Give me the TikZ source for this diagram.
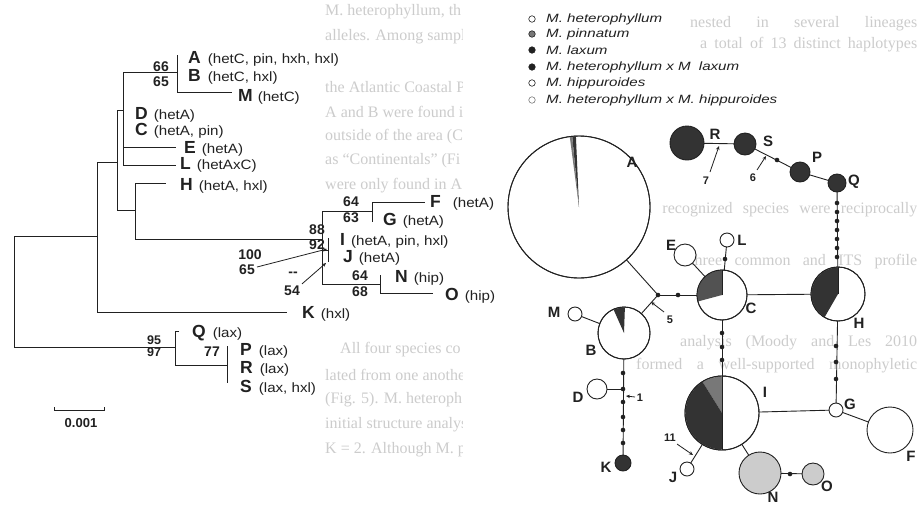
\documentclass[tikz,border=0pt]{standalone}
\usepackage{fontspec}
\setmainfont{Liberation Serif}
\newfontfamily\lab[FakeStretch=1.12]{Liberation Sans}
\newfontfamily\legf[FakeStretch=1.26]{Liberation Sans Italic}
\newfontfamily\bsf{Liberation Sans}
\usetikzlibrary{arrows.meta}
\definecolor{ink}{gray}{0.13}
\definecolor{pinn}{gray}{0.47}
\definecolor{darkc}{gray}{0.2}
\definecolor{hipc}{gray}{0.8}
\definecolor{ghostc}{gray}{0.8}
\newcommand\annf{\lab\mdseries\fontsize{13.5}{14}\selectfont}
\newcommand\pieSect[5]{\fill[#5] (#1) -- ++({-(#3)}:#2) arc[start angle={-(#3)}, end angle={-(#4)}, radius=#2] -- cycle;}
\begin{document}
\begin{tikzpicture}[x=1pt,y=-1pt,
  br/.style={draw=ink, line width=0.9pt},
  tx/.style={font=\bsf\bfseries\fontsize{17.5}{17.5}\selectfont, inner sep=0pt, anchor=base west, text=ink},
  bsv/.style={font=\bsf\bfseries\fontsize{14}{14}\selectfont, inner sep=0pt, text=ink},
  hap/.style={circle, draw=ink, line width=0.9pt, fill=white, inner sep=0pt, outer sep=0pt},
  nl/.style={font=\bsf\bfseries\fontsize{15}{15}\selectfont, inner sep=0pt, text=ink},
  pl/.style={font=\bsf\bfseries\fontsize{11}{11}\selectfont, inner sep=0pt, text=ink},
  edge/.style={draw=ink, line width=0.9pt},
  ptr/.style={draw=ink, line width=0.8pt, -{Stealth[length=4pt,width=3.5pt]}},
  leg/.style={font=\legf\fontsize{12}{12}\selectfont, inner sep=0pt, anchor=west, text=ink},
  lsym/.style={circle, draw=ink, line width=0.6pt, inner sep=0pt, minimum size=6.5pt},
  ghost/.style={font=\fontsize{16}{16}\selectfont, text=ghostc, inner sep=0pt, anchor=west}
]
\useasboundingbox (0,0) rectangle (917,504);
\fill[white] (0,0) rectangle (917,504);

% ---------------- faint page text showing through ----------------
\begin{scope}
\clip (322,0) rectangle (462,504);
\node[ghost] (gl1) at (325,12) {M. heterophyllum, th};
\node[ghost] (gl2) at (325,37) {alleles. Among sampl};
\node[ghost] (gl4) at (325,87) {the Atlantic Coastal P};
\node[ghost] (gl5) at (325,112) {A and B were found i};
\node[ghost] (gl6) at (325,137) {outside of the area (C};
\node[ghost] (gl7) at (325,161) {as ``Continentals'' (Fi};
\node[ghost] (gl8) at (325,186) {were only found in A};
\node[ghost] (gl11) at (340,350) {All four species co};
\node[ghost] (gl12) at (325,375) {lated from one anothe};
\node[ghost] (gl13) at (325,400) {(Fig. 5). M. heteroph};
\node[ghost] (gl14) at (325,425) {initial structure analys};
\node[ghost] (gl15) at (325,450) {K = 2. Although M. p};
\end{scope}
\begin{scope}
\clip (628,0) rectangle (917,504);
\node[ghost] (gr1) at (690,24) {\makebox[227pt][s]{nested in several lineages}};
\node[ghost] (gr2) at (700,45) {\makebox[217pt][s]{a total of 13 distinct haplotypes}};
\node[ghost] (gr3) at (636,210) {\makebox[281pt][s]{all recognized species were reciprocally}};
\node[ghost] (gr5) at (690,262) {\makebox[227pt][s]{three common and ITS profile}};
\node[ghost] (gr7) at (680,343) {\makebox[237pt][s]{analysis (Moody and Les 2010}};
\node[ghost] (gr8) at (636,366) {\makebox[281pt][s]{formed a well-supported monophyletic}};
\end{scope}

% ---------------- tree ----------------
\draw[br] (14,236) -- (14,347);
\draw[br] (14,236) -- (97,236);
\draw[br] (14,347) -- (175,347);
\draw[br] (97,162) -- (97,312);
\draw[br] (97,312) -- (287,312);
\draw[br] (97,162) -- (117,162);
\draw[br] (117,110) -- (117,210);
\draw[br] (117,110) -- (123,110);
\draw[br] (123,72) -- (123,165);
\draw[br] (123,72) -- (177,72);
\draw[br] (177,55) -- (177,92) -- (232,92);
\draw[br] (123,147) -- (176,147);
\draw[br] (123,165) -- (176,165);
\draw[br] (117,210) -- (135,210);
\draw[br] (135,183) -- (135,239);
\draw[br] (135,183) -- (166,183);
\draw[br] (135,239) -- (322,239);
\draw[br] (322,211) -- (322,284);
\draw[br] (322,211) -- (372,211);
\draw[br] (372,202) -- (372,222);
\draw[br] (372,202) -- (425,202);
\draw[br] (322,250) -- (328,250);
\draw[br] (328,238) -- (328,262);
\draw[br] (322,284) -- (380,284);
\draw[br] (380,275) -- (380,293) -- (433,293);
\draw[br] (179,331) -- (175,331) -- (175,365) -- (227,365);
\draw[br] (227,346) -- (227,383);
% scale bar
\draw[br] (54,407) -- (54,411) (54,410) -- (104,410) (104,407) -- (104,411);
\node[bsv, font=\bsf\bfseries\fontsize{13}{13}\selectfont] (scale) at (81,423) {0.001};

% taxa
\node[tx] (tA) at (188,63.5) {A\hspace{7pt}\annf (hetC, pin, hxh, hxl)};
\node[tx] (tB) at (188,81.5) {B\hspace{7pt}\annf (hetC, hxl)};
\node[tx] (tM) at (238,101.5) {M\hspace{5pt}\annf (hetC)};
\node[tx] (tD) at (135,119) {D\hspace{6pt}\annf (hetA)};
\node[tx] (tC) at (135,135) {C\hspace{6pt}\annf (hetA, pin)};
\node[tx] (tE) at (184,153) {E\hspace{6pt}\annf (hetA)};
\node[tx] (tL) at (180,169.5) {L\hspace{6pt}\annf (hetAxC)};
\node[tx] (tH) at (180,190) {H\hspace{6pt}\annf (hetA, hxl)};
\node[tx] (tF) at (430,207) {F\hspace{12pt}\annf (hetA)};
\node[tx] (tG) at (383,225) {G\hspace{6pt}\annf (hetA)};
\node[tx] (tI) at (340,245) {I\hspace{6pt}\annf (hetA, pin, hxl)};
\node[tx] (tJ) at (343,262) {J\hspace{6pt}\annf (hetA)};
\node[tx] (tN) at (395,282) {N\hspace{6pt}\annf (hip)};
\node[tx] (tO) at (445,300) {O\hspace{6pt}\annf (hip)};
\node[tx] (tK) at (302,318) {K\hspace{6pt}\annf (hxl)};
\node[tx] (tQ) at (192,337) {Q\hspace{7pt}\annf (lax)};
\node[tx] (tP) at (240,355) {P\hspace{7pt}\annf (lax)};
\node[tx] (tR) at (240,373) {R\hspace{7pt}\annf (lax)};
\node[tx] (tS) at (240,392) {S\hspace{7pt}\annf (lax, hxl)};

% support values
\node[bsv] (b1) at (161,66.5) {66};
\node[bsv] (b2) at (161,82) {65};
\node[bsv] (b3) at (317,229.5) {88};
\node[bsv] (b4) at (317,245) {92};
\node[bsv] (b5) at (250,255) {100};
\node[bsv] (b6) at (247,270) {65};
\node[bsv] (b7) at (293,274) {--};
\node[bsv] (b8) at (292,291) {54};
\node[bsv] (b9) at (351,202) {64};
\node[bsv] (b10) at (351,218) {63};
\node[bsv] (b11) at (360,276) {64};
\node[bsv] (b12) at (360,292) {68};
\node[bsv, font=\bsf\bfseries\fontsize{12.5}{12.5}\selectfont] (b13) at (154,340.5) {95};
\node[bsv, font=\bsf\bfseries\fontsize{12.5}{12.5}\selectfont] (b14) at (154,352.5) {97};
\node[bsv] (b15) at (212,352) {77};
\coordinate (p1) at (327,249);
\coordinate (p2) at (326,263);
\draw[ptr] (b6.east) ++(2,-3) -- (p1);
\draw[ptr] (b8.north east) ++(2,-2) -- (p2);

% ---------------- legend ----------------
\node[lsym, fill=white] (l1) at (532,19) {};
\node[lsym, fill=pinn] (l2) at (532,34) {};
\node[lsym, fill=ink] (l3) at (532,50) {};
\node[lsym, fill=ink] (l4) at (532,67) {};
\node[lsym, fill=white] (l5) at (532,83) {};
\node[lsym, fill=white, draw=ink!60] (l6) at (532,100) {};
\node[leg] (lt1) at (546,19) {M. heterophyllum};
\node[leg] (lt2) at (546,34) {M. pinnatum};
\node[leg] (lt3) at (546,50) {M. laxum};
\node[leg] (lt4) at (546,67) {M. heterophyllum x M\,\, laxum};
\node[leg] (lt5) at (546,83) {M. hippuroides};
\node[leg] (lt6) at (546,100) {M. heterophyllum x M. hippuroides};

% ---------------- network ----------------
\node[hap, minimum size=142pt] (nA) at (579,207) {};
\node[hap, minimum size=34pt, fill=darkc] (nR) at (687,143) {};
\node[hap, minimum size=22pt, fill=darkc] (nS) at (745,144) {};
\node[hap, minimum size=20pt, fill=darkc] (nP) at (800,172) {};
\node[hap, minimum size=18pt, fill=darkc] (nQ) at (837,183) {};
\node[hap, minimum size=54pt] (nH) at (838,294) {};
\node[hap, minimum size=50pt] (nC) at (722,295) {};
\node[hap, minimum size=22pt] (nE) at (685,255) {};
\node[hap, minimum size=14pt] (nL) at (727,240) {};
\node[hap, minimum size=52pt] (nB) at (624,333) {};
\node[hap, minimum size=14pt] (nM) at (575,314) {};
\node[hap, minimum size=20pt] (nD) at (597,389) {};
\node[hap, minimum size=16pt, fill=darkc] (nK) at (623,463) {};
\node[hap, minimum size=74pt] (nI) at (722,413) {};
\node[hap, minimum size=14pt] (nG) at (836,410) {};
\node[hap, minimum size=46pt] (nF) at (890,430) {};
\node[hap, minimum size=14pt] (nJ) at (687,469) {};
\node[hap, minimum size=42pt, fill=hipc] (nN) at (760,473) {};
\node[hap, minimum size=22pt, fill=hipc] (nO) at (813,474) {};
\coordinate (jn) at (658,295);
\coordinate (jD) at (623,389);

% edges
\draw[edge] (nR) -- (nS);
\draw[edge] (nS) -- (nP);
\draw[edge] (nP) -- (nQ);
\draw[edge] (nQ) -- (nH);
\draw[edge] (nC) -- (nH);
\draw[edge] (nE) -- (nC);
\draw[edge] (nL) -- (nC);
\draw[edge] (nA) -- (jn);
\draw[edge] (jn) -- (nC);
\draw[edge] (jn) -- (nB);
\draw[edge] (nM) -- (nB);
\draw[edge] (nB) -- (nK);
\draw[edge] (nD) -- (jD);
\draw[edge] (nC) -- (nI);
\draw[edge] (nI) -- (nG);
\draw[edge] (nH) -- (nG);
\draw[edge] (nG) -- (nF);
\draw[edge] (nI) -- (nJ);
\draw[edge] (nI) -- (nN);
\draw[edge] (nN) -- (nO);

% pies
\pieSect{nA.center}{70.5}{92.5}{95.5}{darkc}
\pieSect{nA.center}{70.5}{95.5}{97.5}{pinn}
\pieSect{nH.center}{26.5}{90}{240}{darkc}
\pieSect{nC.center}{24.5}{90}{195}{darkc!85!white}
\pieSect{nB.center}{25.5}{88}{114}{darkc}
\pieSect{nI.center}{36.5}{90}{122}{pinn}
\pieSect{nI.center}{36.5}{122}{270}{darkc}
\foreach \n/\r in {nA/71,nH/27,nC/25,nB/26,nI/37}{
  \draw[ink, line width=0.9pt] (\n.center) circle[radius=\r];
}
\draw[ink, line width=0.9pt] (nI.center) -- ++(0,-37) (nI.center) -- ++(0,37);
\draw[ink, line width=0.9pt] (nC.center) -- ++(0,-25) (nH.center) -- ++(0,-27);

% mutation dots
\foreach \p in {(777,160),(837,203),(837,212),(837,221),(837,230),(837,239),(837,248),(837,257),
  (725,259),(658,295),(678,295),(623,373),(623,389),(623,402),(623,417),(623,430),(623,443),
  (722,333),(722,347),(722,360),(836,346),(836,362),(836,379),(790,474)}
  \fill[ink] \p circle[radius=2.3];

% labels
\node[nl] (LA) at (632,162) {A};
\node[nl] (LR) at (715,134) {R};
\node[nl] (LS) at (768,141) {S};
\node[nl] (LP) at (817,157) {P};
\node[nl] (LQ) at (854,182) {Q};
\node[nl] (LH) at (859,323) {H};
\node[nl] (LC) at (751,308) {C};
\node[nl] (LE) at (671,245) {E};
\node[nl] (LL) at (742,240) {L};
\node[nl] (LB) at (591,350) {B};
\node[nl] (LM) at (554,312) {M};
\node[nl] (LD) at (578,397) {D};
\node[nl] (LK) at (606,467) {K};
\node[nl] (LI) at (765,392) {I};
\node[nl] (LG) at (850,404) {G};
\node[nl] (LF) at (911,456) {F};
\node[nl] (LJ) at (673,477) {J};
\node[nl] (LN) at (773,497) {N};
\node[nl] (LO) at (827,486) {O};

% pointers
\node[pl] (m7) at (706,181) {7};
\node[pl] (m6) at (753,178) {6};
\node[pl] (m5) at (670,320) {5};
\node[pl] (m1) at (640,398) {1};
\node[pl] (m11) at (670,438) {11};
\coordinate (q7) at (719,146);
\coordinate (q6) at (766,156);
\coordinate (q5) at (651,302);
\coordinate (q1) at (626,396);
\coordinate (q11) at (693,455);
\draw[ptr] (710,172) -- (q7);
\draw[ptr] (757,170) -- (q6);
\draw[ptr] (664,312) -- (q5);
\draw[ptr] (635,397) -- (q1);
\draw[ptr] (677,444) -- (q11);
\end{tikzpicture}
\end{document}
